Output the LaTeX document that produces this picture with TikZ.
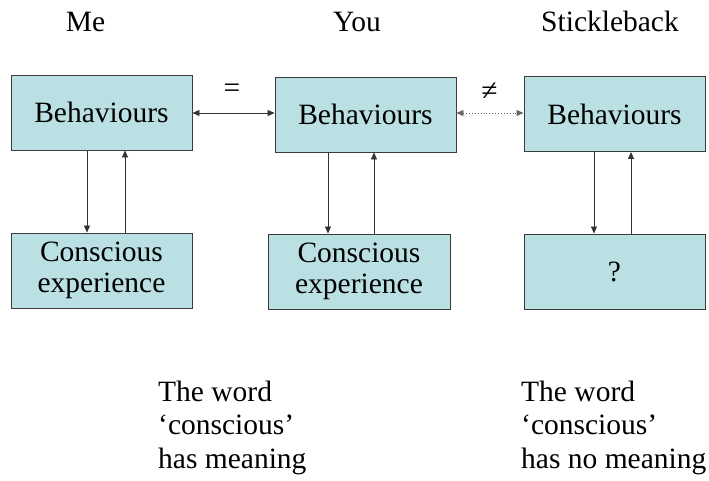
\documentclass[tikz,border=0pt]{standalone}
\usepackage{fontspec}
\setmainfont{Liberation Serif}
\usetikzlibrary{arrows.meta}
\definecolor{boxfill}{RGB}{186,224,228}
\definecolor{boxline}{RGB}{60,60,60}
\begin{document}
\begin{tikzpicture}[x=1pt,y=-1pt,
  box/.style={draw=boxline,line width=0.9pt,fill=boxfill,minimum width=181pt,minimum height=75pt,inner sep=0pt,align=center,font=\fontsize{29.5}{31}\selectfont},
  arr/.style={line width=0.7pt,draw=black!80,-{Triangle[length=7pt,width=6pt]}},
  darr/.style={line width=0.7pt,draw=black!80,{Triangle[length=7pt,width=6pt]}-{Triangle[length=7pt,width=6pt]}},
  dotarr/.style={line width=0.9pt,draw=black!60,dotted,{Triangle[length=7pt,width=6pt]}-{Triangle[length=7pt,width=6pt]}},
  lbl/.style={font=\fontsize{29.5}{34}\selectfont,inner sep=0pt},
  ttl/.style={font=\fontsize{29.5}{34}\selectfont,inner sep=0pt,anchor=base},
  para/.style={font=\fontsize{29.5}{34}\selectfont,inner sep=0pt,anchor=base west}]
\useasboundingbox (0,0) rectangle (709,481);
% titles
\node[ttl] (tme) at (85.5,32) {Me};
\node[ttl] (tyou) at (357,32) {You};
\node[ttl] (tst) at (610,32) {Stickleback};
% boxes
\node[box] (b1) at (101.5,112.5) {Behaviours};
\node[box] (c1) at (101.5,270.5) {Conscious\\experience};
\node[box] (b2) at (365.5,114.5) {Behaviours};
\node[box,minimum width=182pt] (c2) at (359,271.5) {Conscious\\experience};
\node[box] (b3) at (614.5,114) {Behaviours};
\node[box] (c3) at (614.5,271.5) {?};
% vertical arrows
\draw[arr] ([xshift=-14.5pt]b1.south) -- ([xshift=-14.5pt]b1.south |- c1.north);
\draw[arr] ([xshift=23.5pt]b1.south |- c1.north) -- ([xshift=23.5pt]b1.south);
\draw[arr] ([xshift=-37.5pt]b2.south) -- ([xshift=-37.5pt]b2.south |- c2.north);
\draw[arr] ([xshift=8.5pt]b2.south |- c2.north) -- ([xshift=8.5pt]b2.south);
\draw[arr] ([xshift=-20.5pt]b3.south) -- ([xshift=-20.5pt]b3.south |- c3.north);
\draw[arr] ([xshift=16.5pt]b3.south |- c3.north) -- ([xshift=16.5pt]b3.south);
% horizontal arrows
\coordinate (h1) at (b1.east |- 0,113);
\coordinate (h2) at (b2.west |- 0,113);
\coordinate (h3) at (b2.east |- 0,113);
\coordinate (h4) at (b3.west |- 0,113);
\draw[darr] (h1) -- (h2);
\draw[dotarr] (h3) -- (h4);
\node[lbl] (eq) at (232,91) {=};
\node[lbl] (neq) at (489.5,92) {≠};
% bottom texts
\node[para] (t1a) at (158,401) {The word};
\node[para] (t1b) at (158,434.5) {‘conscious’};
\node[para] (t1c) at (158,468) {has meaning};
\node[para] (t2a) at (521,401) {The word};
\node[para] (t2b) at (521,434.5) {‘conscious’};
\node[para] (t2c) at (521,468) {has no meaning};
\end{tikzpicture}
\end{document}
